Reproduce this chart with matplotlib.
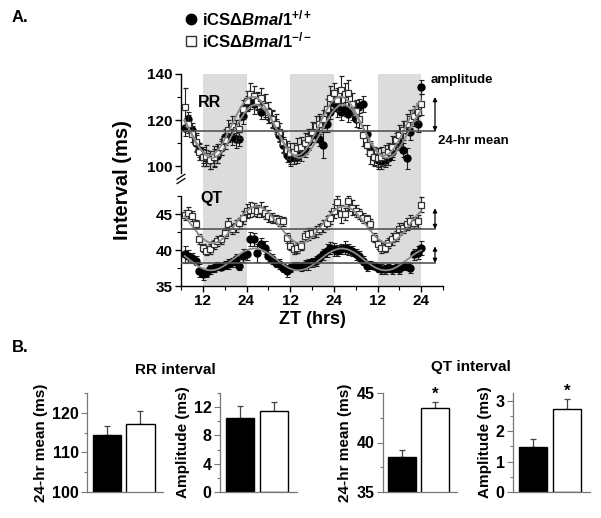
import matplotlib
matplotlib.use('Agg')
import matplotlib.pyplot as plt
from matplotlib.lines import Line2D
from matplotlib.ticker import FixedLocator, FixedFormatter
import numpy as np

plt.rcParams['font.family'] = ['Liberation Sans', 'DejaVu Sans']
plt.rcParams['font.weight'] = 'bold'
plt.rcParams['axes.labelweight'] = 'bold'
plt.rcParams['mathtext.fontset'] = 'custom'
plt.rcParams['mathtext.rm'] = 'Liberation Sans:bold'
plt.rcParams['mathtext.it'] = 'Liberation Sans:italic:bold'
plt.rcParams['mathtext.bf'] = 'Liberation Sans:bold'

# ── Data ──────────────────────────────────────────────────────────────────────
ZT = np.arange(7, 73)  # hourly, ZT 7 .. 72

RR_WT = [116.5, 120.4, 115.5, 109.8, 107.0, 104.5, 103.4, 102.7, 103.7, 104.5,
         107.7, 112.6, 113.3, 112.6, 111.9, 111.9, 121.8, 127.5, 128.2, 126.8,
         128.2, 123.3, 124.0, 124.0, 120.4, 117.6, 113.3, 109.1, 104.8, 103.4,
         103.7, 104.1, 105.5, 107.0, 110.5, 113.3, 114.0, 111.9, 109.1, 118.3,
         123.3, 127.5, 125.4, 123.3, 124.7, 122.6, 124.0, 120.4, 126.1, 126.8,
         114.0, 107.7, 104.1, 102.7, 102.0, 102.7, 103.4, 106.2, 111.2, 110.5,
         107.0, 103.4, 114.8, 121.8, 118.3, 134.3]
RR_WT_ERR = [3.5, 3.0, 3.0, 3.5, 3.0, 3.0, 3.5, 4.0, 3.5, 3.0,
             3.0, 3.5, 3.0, 3.5, 4.0, 3.0, 3.5, 3.0, 3.5, 4.0,
             3.5, 3.0, 3.5, 4.0, 3.5, 3.0, 3.0, 3.5, 3.0, 3.5,
             3.0, 3.0, 3.5, 3.0, 3.5, 3.0, 3.5, 3.0, 5.5, 3.5,
             3.0, 3.5, 4.0, 3.5, 3.0, 3.5, 4.0, 3.5, 3.0, 3.5,
             4.0, 3.0, 3.5, 3.0, 3.5, 3.0, 3.0, 3.5, 3.0, 3.5,
             3.0, 4.5, 3.5, 3.0, 3.5, 3.0]
RR_KO = [125.8, 118.3, 114.0, 110.5, 106.2, 104.1, 104.5, 102.7, 104.1, 105.5,
         108.4, 111.2, 115.5, 117.6, 115.5, 116.2, 124.7, 128.2, 131.1, 130.4,
         128.2, 129.6, 126.1, 123.3, 120.4, 118.3, 114.8, 110.5, 107.0, 105.5,
         106.2, 107.7, 108.4, 109.8, 111.9, 114.8, 117.6, 118.3, 120.4, 124.7,
         129.6, 131.8, 128.9, 133.2, 131.1, 131.8, 126.8, 124.0, 120.4, 113.3,
         109.1, 105.5, 104.1, 103.4, 104.1, 104.8, 106.2, 108.4, 111.2, 113.3,
         115.5, 118.3, 120.4, 121.8, 123.3, 126.8]
RR_KO_ERR = [8.0, 4.0, 3.5, 4.0, 3.5, 4.0, 4.5, 4.0, 4.5, 4.0,
             3.5, 4.0, 4.5, 4.0, 4.5, 4.0, 4.0, 4.5, 5.0, 4.5,
             4.0, 4.5, 5.0, 4.5, 4.0, 4.5, 4.0, 4.5, 4.0, 4.5,
             4.0, 4.5, 4.0, 4.5, 4.0, 4.5, 4.0, 4.5, 4.0, 4.5,
             5.0, 4.5, 5.0, 6.0, 5.0, 5.5, 5.0, 4.5, 4.0, 4.5,
             4.0, 4.5, 4.0, 4.5, 4.0, 4.5, 4.0, 4.5, 4.0, 4.5,
             4.0, 4.5, 4.0, 4.5, 4.0, 4.5]

QT_WT = [39.4, 39.2, 38.9, 38.5, 37.1, 36.6, 36.8, 37.3, 37.5, 37.8,
         37.7, 37.9, 38.1, 38.3, 38.7, 37.8, 39.2, 39.4, 41.5, 41.5,
         39.6, 40.8, 40.3, 39.2, 38.7, 38.2, 38.0, 37.5, 37.1, 37.5,
         37.8, 37.8, 37.7, 37.9, 38.0, 38.3, 38.5, 38.9, 39.4, 39.9,
         40.3, 40.1, 39.9, 40.1, 40.3, 40.1, 39.9, 39.4, 39.2, 38.5,
         37.8, 37.9, 37.8, 37.5, 37.3, 37.3, 37.5, 37.3, 37.5, 37.4,
         37.8, 37.8, 37.5, 39.4, 39.6, 40.3]
QT_WT_ERR = [1.2, 0.8, 0.7, 0.6, 0.9, 0.7, 0.6, 0.6, 0.5, 0.6,
             0.5, 0.6, 0.7, 0.6, 0.8, 0.6, 0.9, 0.8, 1.0, 0.9,
             1.3, 0.8, 0.9, 0.8, 0.7, 0.6, 0.7, 0.6, 0.8, 0.6,
             0.6, 0.5, 0.6, 0.7, 0.8, 0.6, 0.7, 0.6, 0.8, 0.9,
             0.8, 0.9, 0.8, 0.7, 0.9, 0.8, 0.7, 0.8, 0.7, 0.6,
             0.7, 0.6, 0.5, 0.6, 0.7, 0.6, 0.5, 0.6, 0.6, 0.7,
             0.6, 0.6, 0.7, 0.8, 0.9, 1.0]
QT_KO = [44.8, 45.2, 44.7, 43.6, 41.5, 40.3, 39.9, 40.1, 40.8, 41.3,
         41.5, 42.4, 43.6, 42.9, 43.3, 43.8, 44.5, 45.4, 45.6, 45.6,
         45.4, 45.6, 45.2, 44.7, 44.5, 44.3, 44.0, 44.0, 41.7, 40.6,
         40.1, 40.3, 40.6, 41.9, 42.2, 42.4, 42.6, 42.9, 43.3, 43.8,
         44.5, 45.4, 46.6, 45.0, 45.0, 46.8, 45.9, 45.4, 45.0, 44.5,
         44.3, 43.6, 41.7, 40.8, 40.3, 40.3, 41.0, 41.5, 41.9, 42.9,
         43.1, 43.6, 44.0, 43.8, 44.0, 46.3]
QT_KO_ERR = [0.7, 0.8, 0.7, 0.6, 0.7, 0.6, 0.6, 0.7, 0.6, 0.7,
             0.6, 0.7, 0.8, 0.7, 0.8, 0.7, 0.9, 1.0, 1.0, 0.9,
             0.8, 1.0, 0.9, 0.8, 0.7, 0.6, 0.7, 0.6, 0.7, 0.6,
             0.6, 0.7, 0.6, 0.7, 0.8, 0.7, 0.8, 0.7, 0.8, 0.9,
             0.9, 1.0, 1.1, 1.2, 0.9, 1.3, 1.0, 0.8, 0.7, 0.7,
             0.6, 0.7, 0.6, 0.6, 0.7, 0.6, 0.7, 0.8, 0.7, 0.8,
             0.7, 0.8, 0.9, 0.8, 0.9, 1.0]

DARK_PHASES = [(12, 24), (36, 48), (60, 72)]
X_TICKS = [12, 24, 36, 48, 60, 72]
X_TICK_LABELS = ['12', '24', '12', '24', '12', '24']

# horizontal 24-hr mean lines and amplitude arrow tops (RR, QT KO, QT WT)
MEAN_LINES = [115.0, 42.9, 38.2]
AMP_TOPS = [130.0, 45.8, 40.5]

GROUPS = ['WT', 'KO']
RR_MEAN = [114.3, 117.2]
RR_MEAN_ERR = [2.4, 3.3]
RR_AMP = [10.5, 11.5]
RR_AMP_ERR = [1.6, 1.2]
QT_MEAN = [38.5, 43.5]
QT_MEAN_ERR = [0.7, 0.6]
QT_AMP = [1.47, 2.72]
QT_AMP_ERR = [0.27, 0.33]
SIGNIF = [False, True]

# ── Figure ────────────────────────────────────────────────────────────────────
W, H = 601, 518
fig = plt.figure(figsize=(W / 100, H / 100), dpi=100, facecolor='white')


def px_box(l, t, r, b):
    return [l / W, 1 - b / H, (r - l) / W, (b - t) / H]


# broken y axis: QT (35-47.5) at the bottom, RR (97-140) on top
BRK_Y = [0, 47.5, 97, 200]
BRK_U = [(0 - 35) * 7.2, 90, 113.1, 120 + 100 * 2.3]


def fwd(y):
    return np.interp(y, BRK_Y, BRK_U)


def inv(u):
    return np.interp(u, BRK_U, BRK_Y)


ax = fig.add_axes(px_box(181, 74, 443, 286))
ax.set_yscale('function', functions=(fwd, inv))
ax.set_ylim(35, 140)
ax.set_xlim(6, 78)

for a, b in DARK_PHASES:
    ax.axvspan(a, b, color='#dcdcdc', lw=0, zorder=0)


def cosinor(t, y):
    t = np.asarray(t, float)
    w = 2 * np.pi / 24
    A = np.column_stack([np.ones_like(t), np.cos(w * t), np.sin(w * t)])
    coef, *_ = np.linalg.lstsq(A, np.asarray(y), rcond=None)
    tt = np.linspace(t.min(), t.max(), 300)
    return tt, coef[0] + coef[1] * np.cos(w * tt) + coef[2] * np.sin(w * tt)


eb_kw = dict(ecolor='#222222', elinewidth=0.8, capsize=1.8, capthick=0.8, ls='none')
for y, e in [(RR_WT, RR_WT_ERR), (QT_WT, QT_WT_ERR)]:
    ax.errorbar(ZT, y, yerr=e, fmt='o', ms=5, mfc='black', mec='black', zorder=3, **eb_kw)
for y, e in [(RR_KO, RR_KO_ERR), (QT_KO, QT_KO_ERR)]:
    ax.errorbar(ZT, y, yerr=e, fmt='s', ms=5, mfc='white', mec='#333333', mew=0.9,
                zorder=4, **eb_kw)

for y in [RR_WT, RR_KO, QT_WT, QT_KO]:
    tt, fit = cosinor(ZT, y)
    ax.plot(tt, fit, color='#8a8a8a', lw=1.3, zorder=5)

X_ARROW = 75.8
for m, top in zip(MEAN_LINES, AMP_TOPS):
    ax.plot([6, X_ARROW], [m, m], color='#555555', lw=1.2, zorder=6)
    ax.annotate('', xy=(X_ARROW, top), xytext=(X_ARROW, m),
                arrowprops=dict(arrowstyle='<|-|>', color='black', lw=0.9,
                                mutation_scale=6, shrinkA=0, shrinkB=0),
                annotation_clip=False, zorder=7)

ax.text(74.7, 137.4, 'amplitude', fontsize=9.5, ha='left', va='center')
ax.text(76.6, 110.9, '24-hr mean', fontsize=9.5, ha='left', va='center',
        clip_on=False)
ax.text(13.9, 127.4, 'RR', fontsize=11.5, ha='center', va='center')
ax.text(14.4, 47.2, 'QT', fontsize=11.5, ha='center', va='center')

# axes decoration
for s in ['top', 'right', 'left']:
    ax.spines[s].set_visible(False)
ax.spines['bottom'].set_linewidth(1.0)
ytf = ax.get_yaxis_transform()
ax.plot([0, 0], [35, 47.5], transform=ytf, color='black', lw=1.0, clip_on=False)
ax.plot([0, 0], [97, 140], transform=ytf, color='black', lw=1.0, clip_on=False)
for yc in [0.495, 0.515]:
    ax.plot([-0.015, 0.015], [yc - 0.012, yc + 0.012], transform=ax.transAxes,
            color='black', lw=0.9, clip_on=False)

ax.yaxis.set_major_locator(FixedLocator([35, 40, 45, 100, 120, 140]))
ax.yaxis.set_minor_locator(FixedLocator([37.5, 42.5, 47.5, 110, 130]))
ax.yaxis.set_major_formatter(FixedFormatter(['35', '40', '45', '100', '120', '140']))
ax.xaxis.set_major_locator(FixedLocator(X_TICKS))
ax.xaxis.set_major_formatter(FixedFormatter(X_TICK_LABELS))
ax.xaxis.set_minor_locator(FixedLocator([6, 18, 30, 42, 54, 66, 78]))
ax.tick_params(which='major', length=4, width=1, labelsize=11, pad=2)
ax.tick_params(which='minor', length=3, width=0.8)
ax.set_ylabel('Interval (ms)', fontsize=14.5, labelpad=11)
ax.set_xlabel('ZT (hrs)', fontsize=13, labelpad=2)

# legend
handles = [Line2D([], [], marker='o', ls='none', mfc='black', mec='black', ms=7.5),
           Line2D([], [], marker='s', ls='none', mfc='white', mec='#333333', ms=7.5, mew=1)]
labels = [r'iCS$\Delta$$\mathit{Bmal1}^{\mathrm{+/+}}$',
          r'iCS$\Delta$$\mathit{Bmal1}^{\mathrm{-/-}}$']
fig.legend(handles, labels, loc='upper left', bbox_to_anchor=(184 / W, 1 - 8 / H),
           frameon=False, fontsize=12, handlelength=0.8, handletextpad=0.3,
           labelspacing=0.15, borderpad=0, borderaxespad=0)

fig.text(12 / W, 1 - 17 / H, 'A.', fontsize=12, va='center')
fig.text(12 / W, 1 - 348 / H, 'B.', fontsize=12, va='center')

# ── Bar panels ────────────────────────────────────────────────────────────────
BAR_PANELS = [
    (px_box(87, 393, 163, 492), RR_MEAN, RR_MEAN_ERR, (100, 125), [100, 110, 120], 5, False),
    (px_box(220, 393, 297, 492), RR_AMP, RR_AMP_ERR, (0, 14), [0, 4, 8, 12], 2, False),
    (px_box(383, 393, 457, 492), QT_MEAN, QT_MEAN_ERR, (35, 45), [35, 40, 45], 2.5, True),
    (px_box(513, 393, 590, 492), QT_AMP, QT_AMP_ERR, (0, 3.25), [0, 1, 2, 3], 0.5, True),
]
YLABELS = ['24-hr mean (ms)', 'Amplitude (ms)', '24-hr mean (ms)', 'Amplitude (ms)']
XPOS = [0, 1.2]

for (box, vals, errs, ylim, yt, minor, stars), ylab in zip(BAR_PANELS, YLABELS):
    bx = fig.add_axes(box)
    bx.bar(XPOS, vals, width=1.0, color=['black', 'white'], edgecolor='black',
           lw=1.0, zorder=2)
    bx.errorbar(XPOS, vals, yerr=[[0, 0], errs], fmt='none', ecolor='#444444',
                elinewidth=0.9, capsize=2.5, capthick=0.9, zorder=1)
    if stars:
        for x, v, e, s in zip(XPOS, vals, errs, SIGNIF):
            if s:
                bx.text(x, v + e, '*', ha='center', va='bottom', fontsize=12)
    bx.set_xlim(-0.7, 2.0)
    bx.set_ylim(*ylim)
    bx.set_xticks([])
    bx.set_yticks(yt)
    bx.yaxis.set_minor_locator(FixedLocator(np.arange(ylim[0], ylim[1] + 1e-6, minor)))
    bx.tick_params(axis='y', which='major', length=4, width=0.8, color='#777777',
                   labelsize=11.5, pad=2)
    bx.tick_params(axis='y', which='minor', length=2.5, width=0.8, color='#777777')
    for s in ['top', 'right']:
        bx.spines[s].set_visible(False)
    for s in ['left', 'bottom']:
        bx.spines[s].set_color('#777777')
        bx.spines[s].set_linewidth(0.9)
    bx.set_ylabel(ylab, fontsize=11, labelpad=3)

fig.text(175 / W, 1 - 370 / H, 'RR interval', fontsize=11, ha='center', va='center')
fig.text(471 / W, 1 - 367 / H, 'QT interval', fontsize=11, ha='center', va='center')

fig.savefig('out.png', dpi=100, facecolor='white')
